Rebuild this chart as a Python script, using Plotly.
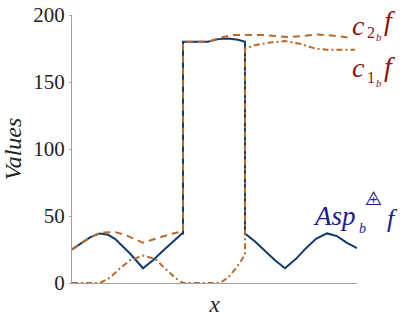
import plotly.graph_objects as go

# x positions (arbitrary units along x)
asp_x = [0, 8, 18, 28, 36, 43, 50, 58, 71, 81, 91, 101, 110, 111, 111, 136, 146, 156, 166, 173, 173, 183, 193, 203, 213, 224, 234, 244, 255, 265, 275, 285]
asp_y = [25, 29, 34, 37, 36, 33, 28, 22, 11, 17, 24, 31, 37, 37, 180, 180, 182, 182.5, 181.5, 180, 37, 31, 24, 17, 11, 18, 26, 33, 37, 35, 30, 26]

c2_x = [0, 8, 18, 28, 36, 43, 53, 63, 71, 81, 91, 101, 110, 111, 111, 136, 148, 160, 190, 204, 218, 232, 246, 262, 278]
c2_y = [25, 29, 34, 37.5, 38, 38, 36, 33, 30, 32.5, 35, 37, 38.5, 38.5, 180, 180, 183, 185, 185, 184, 183.5, 184.5, 185.5, 184.5, 183]

c1_x = [0, 28, 38, 48, 58, 71, 83, 93, 103, 111, 148, 156, 164, 173, 173, 183, 198, 213, 228, 243, 255, 283]
c1_y = [0, 0, 4, 11, 17, 20.5, 18, 11, 4, 0, 0, 4, 11, 21, 175, 177.5, 179.5, 180.5, 178.5, 175, 174, 174]

y_ticks = [0, 50, 100, 150, 200]

navy = "#123a6b"
orange = "#b8692e"
red = "#8b1414"
blue = "#1c1c8a"
serif = "Liberation Serif"

fig = go.Figure()
fig.add_trace(go.Scatter(x=asp_x, y=asp_y, mode="lines",
                         line=dict(color=navy, width=2), cliponaxis=False))
fig.add_trace(go.Scatter(x=c2_x, y=c2_y, mode="lines",
                         line=dict(color=orange, width=2, dash="7px,5px"), cliponaxis=False))
fig.add_trace(go.Scatter(x=c1_x, y=c1_y, mode="lines",
                         line=dict(color=orange, width=2, dash="6px,3px,2px,3px"), cliponaxis=False))

ann = []
def txt(x, y, s, size, color, italic=True, font=serif):
    ann.append(dict(xref="paper", yref="paper", x=x, y=y, text=s, showarrow=False,
                    xanchor="left", yanchor="middle",
                    font=dict(family=font, size=size, color=color,
                              style="italic" if italic else "normal")))

W, H = 285.0, 268.0
def px(xp):
    return (xp - 72) / W
def py(yp):
    return (283 - yp) / H

# c2b f
txt(px(350), py(25), "c", 28, red)
txt(px(365), py(32), "2", 16, red, italic=False)
txt(px(374), py(37), "b", 11, red)
txt(px(382), py(21), "f", 28, red)
# c1b f
txt(px(350), py(68), "c", 28, red)
txt(px(365), py(77), "1", 16, red, italic=False)
txt(px(374), py(83), "b", 11, red)
txt(px(382), py(66), "f", 28, red)
# Asp_b (triangle plus) f
txt(px(311), py(216), "Asp", 27, blue)
txt(px(357), py(228), "b", 14, blue)
txt(px(363), py(198), "⨹", 19, blue, italic=False, font="DejaVu Sans")
txt(px(385), py(218), "f", 26, blue)

fig.update_layout(
    width=407, height=317,
    margin=dict(l=72, r=50, t=15, b=34),
    plot_bgcolor="white", paper_bgcolor="white",
    showlegend=False,
    annotations=ann,
    font=dict(family=serif, color="#222"),
)
fig.update_xaxes(range=[0, 285], showgrid=False, zeroline=False, showticklabels=False,
                 showline=True, linecolor="#a0a0a0", linewidth=1, ticks="", automargin=False,
                 title=dict(text="<i>x</i>", font=dict(family=serif, size=23, color="#222"), standoff=12))
fig.update_yaxes(range=[0, 200], tickvals=y_ticks, showgrid=False, zeroline=False, automargin=False,
                 showline=True, linecolor="#a0a0a0", linewidth=1, ticks="outside", ticklen=2,
                 tickcolor="#a0a0a0",
                 tickfont=dict(family=serif, size=21, color="#222"),
                 title=dict(text="<i>Values</i>", font=dict(family=serif, size=24, color="#222"), standoff=9))

fig.write_html("out.html", config={"displayModeBar": False},
               post_script="document.body.style.margin='0';")
